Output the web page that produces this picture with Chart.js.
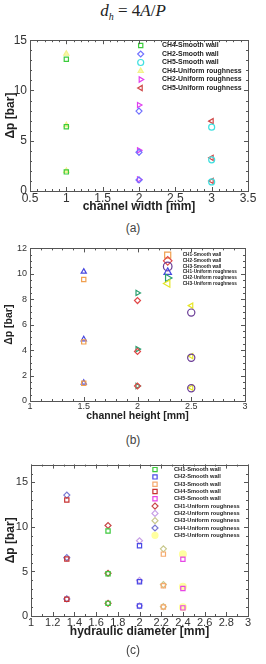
<!DOCTYPE html>
<html>
<head>
<meta charset="utf-8">
<script src="https://cdn.jsdelivr.net/npm/chart.js@4.4.1/dist/chart.umd.min.js"></script>
<style>
  body { margin: 0; width: 266px; height: 664px; background: #fff; position: relative; overflow: hidden; font-family: "Liberation Sans", Arial, sans-serif; }
  canvas { position: absolute; left: 0; }
  .cap { position: absolute; left: 0; width: 266px; text-align: center; font-size: 12px; color: #444; }
  #formula { position: absolute; top: 1px; left: 0; width: 266px; text-align: center; font-family: "Liberation Serif", serif; font-size: 17px; color: #222; }
  #formula sub { font-size: 10px; }
  #err { position: absolute; top: 0; left: 0; font-size: 9px; color: red; }
</style>
</head>
<body>
<div id="formula"><i>d</i><sub><i>h</i></sub> = 4<i>A</i>/<i>P</i></div>
<canvas id="chartA" width="266" height="190" style="top:30px"></canvas>
<div class="cap" style="top:221px">(a)</div>
<canvas id="chartB" width="266" height="185" style="top:240px"></canvas>
<div class="cap" style="top:433px">(b)</div>
<canvas id="chartC" width="266" height="190" style="top:455px"></canvas>
<div class="cap" style="top:643px">(c)</div>
<div id="err"></div>
<script>
// (a) pressure drop vs channel width
const widthNames = ["CH4-Smooth wall", "CH2-Smooth wall", "CH5-Smooth wall", "CH4-Uniform roughness", "CH2-Uniform roughness", "CH5-Uniform roughness"];
const widthX = [1, 2, 3, 1, 2, 3];
const widthCh4Smooth = [13.1, 6.4, 1.9];
const widthCh2Smooth = [7.95, 3.85, 1.1];
const widthCh5Smooth = [6.35, 3.1, 0.9];
const widthCh4Rough = [13.65, 6.55, 2.0];
const widthCh2Rough = [8.55, 4.05, 1.15];
const widthCh5Rough = [6.95, 3.3, 1.0];

// (b) pressure drop vs channel height
const heightNames = ["CH1-Smooth wall", "CH2-Smooth wall", "CH3-Smooth wall", "CH1-Uniform roughness", "CH2-Uniform roughness", "CH3-Uniform roughness"];
const heightX = [1.5, 2, 2.5, 1.5, 2, 2.5];
const heightCh1Smooth = [9.55, 4.65, 1.4];
const heightCh2Smooth = [7.9, 3.9, 1.18];
const heightCh3Smooth = [6.95, 3.4, 1.0];
const heightCh1Rough = [10.17, 4.85, 1.44];
const heightCh2Rough = [8.5, 4.08, 1.18];
const heightCh3Rough = [7.5, 3.53, 1.05];

// (c) pressure drop vs hydraulic diameter
const dhNames = ["CH1-Smooth wall", "CH2-Smooth wall", "CH3-Smooth wall", "CH4-Smooth wall", "CH5-Smooth wall",
  "CH1-Uniform roughness", "CH2-Uniform roughness", "CH3-Uniform roughness", "CH4-Uniform roughness", "CH5-Uniform roughness"];
const dhX = [1.71, 2.0, 2.22, 1.33, 2.4, 1.71, 2.0, 2.22, 1.33, 2.4];
const dhCh1Smooth = [9.55, 4.75, 1.42];
const dhCh2Smooth = [7.88, 3.85, 1.13];
const dhCh3Smooth = [6.95, 3.39, 1.02];
const dhCh4Smooth = [13.03, 6.41, 1.89];
const dhCh5Smooth = [6.37, 3.09, 0.91];
const dhCh1Rough = [10.16, 4.8, 1.42];
const dhCh2Rough = [8.45, 4.0, 1.15];
const dhCh3Rough = [7.54, 3.53, 1.05];
const dhCh4Rough = [13.58, 6.55, 1.92];
const dhCh5Rough = [6.92, 3.28, 0.98];

const widthStyles = [
  { shape: "rect", color: "#3ccc3c" },
  { shape: "rectRot", color: "#7272ff" },
  { shape: "circle", color: "#40e0e0" },
  { shape: "triangle", color: "#f2f28a", fill: "#f7f7b0" },
  { shape: "triangle", color: "#e040f0", rot: 90 },
  { shape: "triangle", color: "#d04848", rot: -90 }
];
const heightStyles = [
  { shape: "rect", color: "#f0a050" },
  { shape: "rectRot", color: "#e04848" },
  { shape: "circle", color: "#6a3c96", r: 3.6 },
  { shape: "triangle", color: "#4848e0" },
  { shape: "triangle", color: "#2ca070", rot: 90 },
  { shape: "triangle", color: "#e6e628", rot: -90 }
];
const dhStyles = [
  { shape: "rect", color: "#3cc83c" },
  { shape: "rect", color: "#4b4be6" },
  { shape: "rect", color: "#f5aa6e" },
  { shape: "rect", color: "#c83232" },
  { shape: "rect", color: "#e646e6" },
  { shape: "rectRot", color: "#c84646" },
  { shape: "rectRot", color: "#c8a0e6" },
  { shape: "rectRot", color: "#c8c88c" },
  { shape: "rectRot", color: "#7878d2" },
  { shape: "circle", color: "#ffffa0", fill: "#ffffa0", r: 3.4 }
];

function buildSets(names, xs, values, styles) {
  return names.map((name, i) => ({
    label: name,
    data: values[i].map(v => ({ x: xs[i], y: v })),
    pointStyle: styles[i].shape,
    pointRotation: styles[i].rot || 0,
    pointRadius: styles[i].r || 3,
    borderColor: styles[i].color,
    backgroundColor: styles[i].fill || "rgba(0,0,0,0)",
    borderWidth: 1.2
  }));
}

// box around plot with inward major/minor ticks
const frameSteps = {};
const framePlugin = {
  id: "frameBox",
  afterDraw(chart) {
    try {
      const { ctx, chartArea: a, scales } = chart;
      const st = frameSteps[chart.canvas.id];
      ctx.save();
      ctx.strokeStyle = "#555";
      ctx.lineWidth = 1;
      ctx.strokeRect(Math.round(a.left) + 0.5, Math.round(a.top) + 0.5, Math.round(a.right - a.left), Math.round(a.bottom - a.top));
      const marks = (scale, step, len, horizontal) => {
        const n = Math.round((scale.max - scale.min) / step);
        for (let k = 0; k <= n; k++) {
          const p = Math.round(scale.getPixelForValue(scale.min + k * step)) + 0.5;
          ctx.beginPath();
          if (horizontal) {
            ctx.moveTo(p, a.bottom); ctx.lineTo(p, a.bottom - len);
            ctx.moveTo(p, a.top); ctx.lineTo(p, a.top + len);
          } else {
            ctx.moveTo(a.left, p); ctx.lineTo(a.left + len, p);
            ctx.moveTo(a.right, p); ctx.lineTo(a.right - len, p);
          }
          ctx.stroke();
        }
      };
      marks(scales.x, st.xStep, 4, true);
      marks(scales.x, st.xMinor, 2, true);
      marks(scales.y, st.yStep, 4, false);
      marks(scales.y, st.yMinor, 2, false);
      ctx.restore();
    } catch (e) {
      document.getElementById("err").textContent += e.message + " ";
    }
  }
};

// legend drawn inside the plot area
const insideLegend = {
  id: "insideLegend",
  afterDatasetsDraw(chart, args, opts) {
    const { ctx, chartArea: a } = chart;
    ctx.save();
    ctx.font = opts.font;
    ctx.textBaseline = "middle";
    chart.data.datasets.forEach((ds, i) => {
      const y = a.top + opts.dy + i * opts.gap;
      ctx.strokeStyle = ds.borderColor;
      ctx.fillStyle = ds.backgroundColor;
      ctx.lineWidth = ds.borderWidth;
      Chart.helpers.drawPoint(ctx, {
        pointStyle: ds.pointStyle,
        rotation: ds.pointRotation,
        radius: opts.radius,
        borderWidth: ds.borderWidth
      }, a.left + opts.dx, y);
      ctx.fillStyle = "#222";
      ctx.fillText(ds.label, a.left + opts.textDx, y);
    });
    ctx.restore();
  }
};

function makeChart(id, cfg) {
  const axisFont = { size: cfg.tickSize };
  const titleFont = { size: cfg.titleSize, weight: "bold" };
  const keepMajor = step => s => {
    s.ticks = s.ticks.filter(t => Math.abs(t.value / step - Math.round(t.value / step)) < 1e-6);
  };
  frameSteps[id] = { xStep: cfg.x.step, xMinor: cfg.x.minor, yStep: cfg.y.step, yMinor: cfg.y.minor };
  return new Chart(document.getElementById(id), {
    type: "scatter",
    data: { datasets: cfg.datasets },
    plugins: [framePlugin, insideLegend],
    options: {
      responsive: false,
      animation: false,
      layout: { padding: cfg.padding },
      plugins: {
        legend: { display: false },
        tooltip: { enabled: false },
        insideLegend: cfg.legend
      },
      scales: {
        x: {
          type: "linear",
          min: cfg.x.min,
          max: cfg.x.max,
          afterBuildTicks: keepMajor(cfg.x.step),
          ticks: { stepSize: cfg.x.step, color: "#333", font: axisFont, padding: cfg.xTickPad, maxRotation: 0,
            callback: v => String(+v.toFixed(2)) },
          grid: { display: false, drawTicks: false },
          border: { display: false },
          title: { display: true, text: cfg.x.title, color: "#222", font: titleFont, padding: 0 },
          afterFit: s => { s.height = cfg.xHeight; }
        },
        y: {
          min: cfg.y.min,
          max: cfg.y.max,
          afterBuildTicks: keepMajor(cfg.y.step),
          ticks: { stepSize: cfg.y.step, color: "#333", font: axisFont, padding: 3,
            callback: v => String(+v.toFixed(2)) },
          grid: { display: false, drawTicks: false },
          border: { display: false },
          title: { display: true, text: "Δp [bar]", color: "#222", font: titleFont, padding: { top: 3, bottom: 0 } },
          afterFit: s => { s.width = cfg.yWidth; }
        }
      }
    }
  });
}

Chart.defaults.font.family = '"Liberation Sans", Arial, sans-serif';

makeChart("chartA", {
  datasets: buildSets(widthNames, widthX,
    [widthCh4Smooth, widthCh2Smooth, widthCh5Smooth, widthCh4Rough, widthCh2Rough, widthCh5Rough], widthStyles),
  x: { min: 0.5, max: 3.5, step: 0.5, minor: 0.1, title: "channel width [mm]" },
  y: { min: 0, max: 15, step: 5, minor: 1 },
  padding: { top: 9, right: 18, bottom: 6, left: 0 },
  xHeight: 23, yWidth: 30, tickSize: 12, titleSize: 12, xTickPad: 0,
  legend: { dx: 110.7, dy: 5.3, gap: 8.5, textDx: 132, radius: 3, font: 'bold 6.9px "Liberation Sans", Arial, sans-serif' }
});

makeChart("chartB", {
  datasets: buildSets(heightNames, heightX,
    [heightCh1Smooth, heightCh2Smooth, heightCh3Smooth, heightCh1Rough, heightCh2Rough, heightCh3Rough], heightStyles),
  x: { min: 1, max: 3, step: 0.5, minor: 0.1, title: "channel height [mm]" },
  y: { min: 0, max: 12, step: 2, minor: 0.5 },
  padding: { top: 8, right: 21, bottom: 3, left: 0 },
  xHeight: 21, yWidth: 30, tickSize: 9, titleSize: 10.5, xTickPad: 0,
  legend: { dx: 137.7, dy: 6.7, gap: 5.7, textDx: 152.7, radius: 4.3, font: 'bold 4.7px "Liberation Sans", Arial, sans-serif' }
});

makeChart("chartC", {
  datasets: buildSets(dhNames, dhX,
    [dhCh1Smooth, dhCh2Smooth, dhCh3Smooth, dhCh4Smooth, dhCh5Smooth, dhCh1Rough, dhCh2Rough, dhCh3Rough, dhCh4Rough, dhCh5Rough], dhStyles),
  x: { min: 1, max: 3, step: 0.2, minor: 0.1, title: "hydraulic diameter [mm]" },
  y: { min: 0, max: 17, step: 5, minor: 1 },
  padding: { top: 6, right: 18, bottom: 6, left: 0 },
  xHeight: 23, yWidth: 31, tickSize: 11, titleSize: 12, xTickPad: 0,
  legend: { dx: 124, dy: 5, gap: 7.3, textDx: 143, radius: 3, font: 'bold 5.7px "Liberation Sans", Arial, sans-serif' }
});
</script>
</body>
</html>
